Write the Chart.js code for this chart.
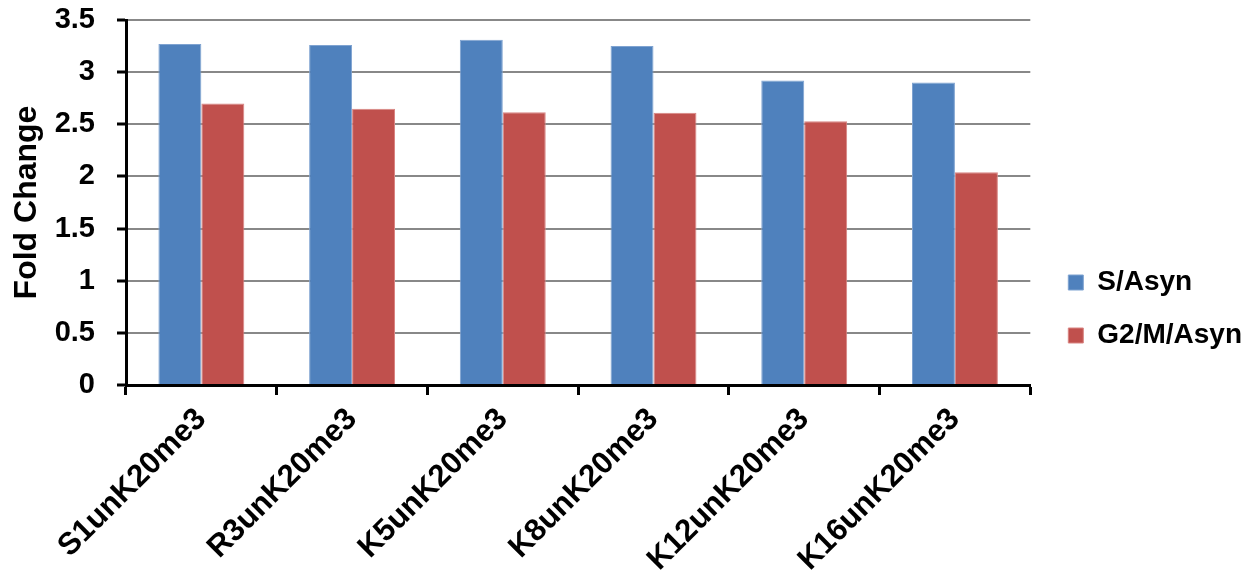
<!DOCTYPE html>
<html>
<head>
<meta charset="utf-8">
<script src="https://cdn.jsdelivr.net/npm/chart.js@4/dist/chart.umd.min.js"></script>
<style>
  html, body { margin: 0; padding: 0; background: #fff; }
  #wrap { width: 1249px; height: 584px; }
</style>
</head>
<body>
<div id="wrap"><canvas id="chart"></canvas></div>
<script>
var categories = ["S1unK20me3", "R3unK20me3", "K5unK20me3", "K8unK20me3", "K12unK20me3", "K16unK20me3"];
var sAsyn = [3.27, 3.26, 3.31, 3.25, 2.92, 2.90];
var g2mAsyn = [2.70, 2.65, 2.615, 2.61, 2.53, 2.04];
var seriesNames = ["S/Asyn", "G2/M/Asyn"];
var yTicks = [0, 0.5, 1, 1.5, 2, 2.5, 3, 3.5];

var font = "'Liberation Sans', Arial, sans-serif";

// nudge the legend a little right and down of where chart.js puts it
var legendShift = {
    id: 'legendShift',
    afterLayout: function(chart) {
        var lg = chart.legend;
        if (lg) {
            lg.left += 13; lg.right += 13;
            lg.top += 9; lg.bottom += 9;
        }
    }
};

new Chart(document.getElementById("chart"), {
    type: 'bar',
    data: {
        labels: categories,
        datasets: [{
            label: seriesNames[0],
            backgroundColor: "#4F81BD",
            borderColor: "#7FA3D1",
            borderWidth: 1,
            data: sAsyn
        }, {
            label: seriesNames[1],
            backgroundColor: "#C0504D",
            borderColor: "#D98583",
            borderWidth: 1,
            data: g2mAsyn
        }]
    },
    plugins: [legendShift],
    options: {
        responsive: true,
        maintainAspectRatio: false,
        animation: false,
        datasets: {
            bar: { categoryPercentage: 0.57, barPercentage: 1.0 }
        },
        layout: { padding: { top: 20, left: 8, right: 10, bottom: 4 } },
        plugins: {
            tooltip: { enabled: false },
            legend: {
                position: 'right',
                labels: {
                    boxWidth: 15,
                    boxHeight: 15,
                    padding: 25,
                    color: '#000',
                    font: { family: font, size: 28, weight: 'bold' }
                }
            }
        },
        scales: {
            x: {
                afterFit: function(scale) {
                    scale.height = 584 - 385 - 4;
                    scale.paddingLeft = 0;
                    scale.paddingRight = 0;
                },
                grid: {
                    offset: true,
                    drawOnChartArea: false,
                    tickLength: 10,
                    tickColor: '#000',
                    tickWidth: 3
                },
                border: { color: '#000', width: 3 },
                ticks: {
                    color: '#000',
                    padding: 6,
                    maxRotation: 45,
                    minRotation: 45,
                    font: { family: font, size: 31, weight: 'bold' }
                }
            },
            y: {
                min: 0,
                max: 3.5,
                afterBuildTicks: function(scale) {
                    scale.ticks = yTicks.map(function(v) { return { value: v }; });
                },
                afterFit: function(scale) {
                    scale.width = 126 - 8;
                    scale.paddingTop = 0;
                    scale.paddingBottom = 0;
                },
                grid: {
                    color: '#888',
                    lineWidth: 2,
                    tickColor: '#000',
                    tickWidth: 3,
                    tickLength: 9
                },
                border: { color: '#000', width: 3 },
                title: {
                    display: true,
                    text: 'Fold Change',
                    color: '#000',
                    padding: 0,
                    font: { family: font, size: 32, weight: 'bold' }
                },
                ticks: {
                    color: '#000',
                    padding: 22,
                    font: { family: font, size: 29, weight: 'bold' },
                    callback: function(v) { return String(v); }
                }
            }
        }
    }
});
</script>
</body>
</html>
